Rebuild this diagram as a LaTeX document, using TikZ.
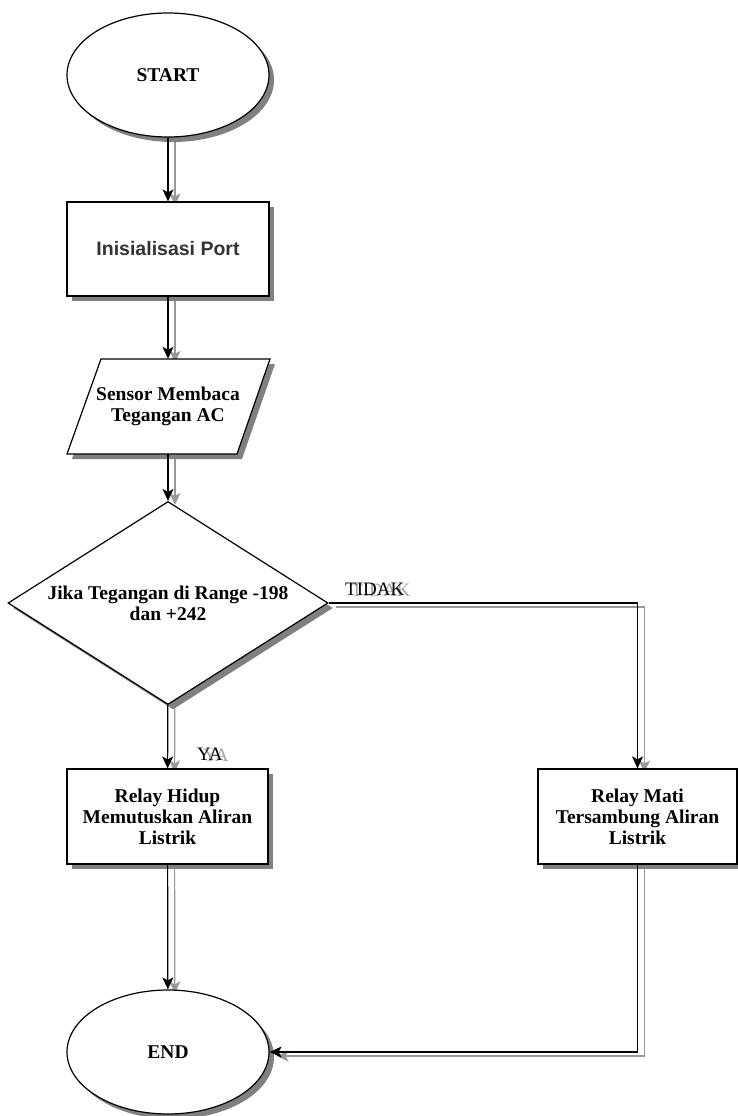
\documentclass[tikz,border=0pt]{standalone}
\usepackage{fontspec}
\setmainfont{Liberation Serif}
\newfontfamily\sansf{Liberation Sans}
\usetikzlibrary{shapes.geometric,arrows.meta,shadows,backgrounds}
\begin{document}
\begin{tikzpicture}[x=1pt,y=-1pt,
  every node/.style={font=\fontsize{19.5}{21}\selectfont\bfseries, align=center},
  shd/.style={drop shadow={shadow xshift=5pt,shadow yshift=-5pt,opacity=1,fill=black!50}},
  term/.style={ellipse,draw,line width=1.2pt,fill=white,shd,minimum width=202pt,minimum height=124pt,inner sep=0pt},
  proc/.style={rectangle,draw,line width=1.2pt,fill=white,shd,minimum width=201pt,minimum height=95pt,inner sep=0pt},
  decis/.style={diamond,draw,line width=1.2pt,fill=white,shd,minimum width=320pt,minimum height=203pt,inner sep=0pt,aspect=1.58},
  arr/.style={line width=1.2pt,-{Stealth[length=12pt,width=11pt,inset=3pt]}},
  arrsh/.style={arr,draw=black!40,transform canvas={xshift=7pt,yshift=-4pt}},
  lbl/.style={font=\fontsize{19}{21}\selectfont, inner sep=0pt, anchor=base west},
  lblsh/.style={lbl, text=black!35}
]
\useasboundingbox (0,0) rectangle (738,1116);

% terminals and processes
\node[term] (start) at (168,75) {START};
\node[proc, minimum width=202pt, minimum height=94pt] (init) at (168,249) {\sansf\bfseries\color{black!80}Inisialisasi Port};

% parallelogram (input)
\fill[black!50] (106,364) -- (275,364) -- (242,459) -- (72,459) -- cycle;
\draw[line width=1.2pt, fill=white] (101,359) -- (270,359) -- (237,454) -- (67,454) -- cycle;
\node[inner sep=0pt, minimum width=170pt, minimum height=95pt] (sensor) at (168,406.5) {Sensor Membaca\\Tegangan AC};

\node[decis] (dec) at (168,603) {Jika Tegangan di Range -198\\dan +242};

\node[proc] (hidup) at (167.5,816.5) {Relay Hidup\\Memutuskan Aliran\\Listrik};
\node[proc, minimum width=199pt] (mati) at (637.5,816.5) {Relay Mati\\Tersambung Aliran\\Listrik};

\node[term] (end) at (168,1052) {END};

% connector shadows (behind everything)
\begin{pgfonlayer}{background}
\draw[arrsh] (start) -- (init);
\draw[arrsh] (init) -- (sensor);
\draw[arrsh] (sensor) -- (dec);
\draw[arrsh] (dec) -- (hidup);
\draw[arrsh] (dec.east) -| (mati);
\draw[arrsh] (hidup) -- (end);
\draw[arrsh] (mati) |- (end);
\end{pgfonlayer}

% connectors
\draw[arr] (start) -- (init);
\draw[arr] (init) -- (sensor);
\draw[arr] (sensor) -- (dec);
\draw[arr] (dec) -- (hidup);
\draw[arr] (dec.east) -| (mati);
\draw[arr] (hidup) -- (end);
\draw[arr] (mati) |- (end);

% labels
\node[lblsh] (tidaksh) at (351,596) {TIDAK};
\node[lbl] (tidak) at (345,595) {TIDAK};
\node[lblsh] (yash) at (203,761) {YA};
\node[lbl] (ya) at (197,760) {YA};
\end{tikzpicture}
\end{document}
